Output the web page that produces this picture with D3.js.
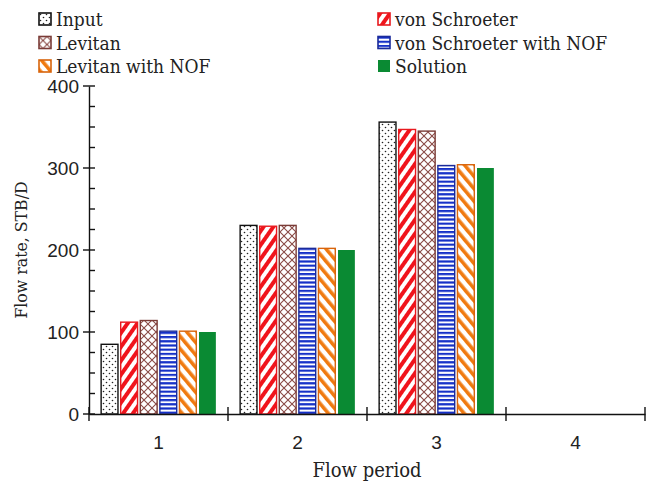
<!DOCTYPE html>
<html>
<head>
<meta charset="utf-8">
<script src="https://cdn.jsdelivr.net/npm/d3@7/dist/d3.min.js"></script>
<style>
  body { margin: 0; background: #fff; }
  svg text { font-family: "DejaVu Serif Condensed", "DejaVu Serif", serif; fill: #222; }
</style>
</head>
<body>
<div id="chart"></div>
<script>
// flow periods and the rates
const periods = ["1", "2", "3", "4"];
const input = [85, 230, 356, null];
const vonSchroeter = [112, 229, 347, null];
const levitan = [114, 230, 345, null];
const vonSchroeterNOF = [101, 202, 303, null];
const levitanNOF = [101, 202, 304, null];
const solution = [100, 200, 300, null];
const yTicks = [0, 100, 200, 300, 400];

const series = [
  { name: "Input", values: input, fill: "url(#dots)", stroke: "#111" },
  { name: "von Schroeter", values: vonSchroeter, fill: "url(#redDiag)", stroke: "#e8191f" },
  { name: "Levitan", values: levitan, fill: "url(#brownCross)", stroke: "#7a3b36" },
  { name: "von Schroeter with NOF", values: vonSchroeterNOF, fill: "url(#blueHoriz)", stroke: "#1a2a9a" },
  { name: "Levitan with NOF", values: levitanNOF, fill: "url(#orangeDiag)", stroke: "#d8640c" },
  { name: "Solution", values: solution, fill: "#0a8a33", stroke: "none" }
];

const width = 648, height = 483;
const margin = { top: 86, right: 3, bottom: 69, left: 89 };

const svg = d3.select("#chart").append("svg")
  .attr("width", width)
  .attr("height", height);

// patterns for the bar fills
const defs = svg.append("defs");

const dots = defs.append("pattern").attr("id", "dots")
  .attr("patternUnits", "userSpaceOnUse").attr("width", 6).attr("height", 6);
dots.append("rect").attr("width", 6).attr("height", 6).attr("fill", "#fff");
dots.append("circle").attr("cx", 1.5).attr("cy", 1.5).attr("r", 0.8).attr("fill", "#222");
dots.append("circle").attr("cx", 4.5).attr("cy", 4.5).attr("r", 0.8).attr("fill", "#222");

function stripes(id, color, angle, size, thick) {
  const p = defs.append("pattern").attr("id", id)
    .attr("patternUnits", "userSpaceOnUse")
    .attr("width", size).attr("height", size)
    .attr("patternTransform", `rotate(${angle})`);
  p.append("rect").attr("width", size).attr("height", size).attr("fill", "#fff");
  p.append("rect").attr("width", thick).attr("height", size).attr("fill", color);
}
stripes("redDiag", "#f0141c", 35, 8, 4);
stripes("orangeDiag", "#f07a10", -40, 8, 3.6);

const hz = defs.append("pattern").attr("id", "blueHoriz")
  .attr("patternUnits", "userSpaceOnUse").attr("width", 4).attr("height", 4.2);
hz.append("rect").attr("width", 4).attr("height", 4.2).attr("fill", "#fff");
hz.append("rect").attr("width", 4).attr("height", 2.2).attr("fill", "#1530c8");

const cross = defs.append("pattern").attr("id", "brownCross")
  .attr("patternUnits", "userSpaceOnUse").attr("width", 8).attr("height", 8);
cross.append("rect").attr("width", 8).attr("height", 8).attr("fill", "#fff");
cross.append("path").attr("d", "M0,0L8,8M8,0L0,8")
  .attr("stroke", "#8a4a46").attr("stroke-width", 1.1);

const x = d3.scaleBand()
  .domain(periods)
  .range([margin.left, width - margin.right]);

const x1 = d3.scaleBand()
  .domain(series.map(s => s.name))
  .range([0, x.bandwidth()])
  .paddingInner(0.14)
  .paddingOuter(0.62);

const y = d3.scaleLinear()
  .domain([0, 400])
  .range([height - margin.bottom, margin.top]);

// bars
const groups = svg.append("g").selectAll("g")
  .data(series)
  .join("g");

groups.selectAll("rect")
  .data(s => s.values.map((v, i) => ({ s, v, p: periods[i] })).filter(d => d.v != null))
  .join("rect")
  .attr("x", d => x(d.p) + x1(d.s.name))
  .attr("y", d => y(d.v))
  .attr("width", x1.bandwidth())
  .attr("height", d => y(0) - y(d.v))
  .attr("fill", d => d.s.fill)
  .attr("stroke", d => d.s.stroke)
  .attr("stroke-width", 1.4);

// y axis
const yAxis = svg.append("g").attr("transform", `translate(${margin.left},0)`);
yAxis.call(d3.axisLeft(y).tickValues(yTicks).tickSize(0).tickPadding(10));
yAxis.select(".domain").attr("stroke", "#111").attr("stroke-width", 1.4);
yAxis.selectAll(".tick text").attr("font-size", 19).style("font-family", "inherit");

// major ticks cross the axis, minor ones only inside
yAxis.selectAll("line.maj")
  .data(y.ticks(4))
  .join("line")
  .attr("x1", -6).attr("x2", 6)
  .attr("y1", d => y(d)).attr("y2", d => y(d))
  .attr("stroke", "#111").attr("stroke-width", 1.4);
yAxis.selectAll("line.min")
  .data(d3.range(0, 401, 25).filter(v => v % 100 !== 0))
  .join("line")
  .attr("x1", 0).attr("x2", 6)
  .attr("y1", d => y(d)).attr("y2", d => y(d))
  .attr("stroke", "#111").attr("stroke-width", 1.4);

// x axis
const xAxis = svg.append("g").attr("transform", `translate(0,${y(0)})`);
xAxis.call(d3.axisBottom(x).tickSize(0).tickPadding(22));
xAxis.select(".domain").attr("stroke", "#111").attr("stroke-width", 1.4);
xAxis.selectAll(".tick text").attr("font-size", 19).style("font-family", "inherit");
xAxis.selectAll("line.sep")
  .data(periods.map(p => x(p)).concat([x.range()[1]]))
  .join("line")
  .attr("x1", d => d).attr("x2", d => d)
  .attr("y1", -7).attr("y2", 7)
  .attr("stroke", "#111").attr("stroke-width", 1.4);

// axis titles
svg.append("text")
  .attr("x", (margin.left + width - margin.right) / 2)
  .attr("y", 477)
  .attr("text-anchor", "middle")
  .attr("font-size", 20)
  .text("Flow period");

svg.append("text")
  .attr("transform", `translate(27,${(y(0) + y(400)) / 2}) rotate(-90)`)
  .attr("text-anchor", "middle")
  .attr("font-size", 17.5)
  .text("Flow rate, STB/D");

// legend, two columns
const legend = svg.append("g");
const item = legend.selectAll("g")
  .data(series)
  .join("g")
  .attr("transform", (d, i) => `translate(${i % 2 === 0 ? 39 : 378},${13 + Math.floor(i / 2) * 23.5})`);
item.append("rect")
  .attr("width", 12).attr("height", 12)
  .attr("fill", d => d.fill)
  .attr("stroke", d => d.stroke)
  .attr("stroke-width", 1.6);
item.append("text")
  .attr("x", 17).attr("y", 13)
  .attr("font-size", 19)
  .text(d => d.name);
</script>
</body>
</html>
